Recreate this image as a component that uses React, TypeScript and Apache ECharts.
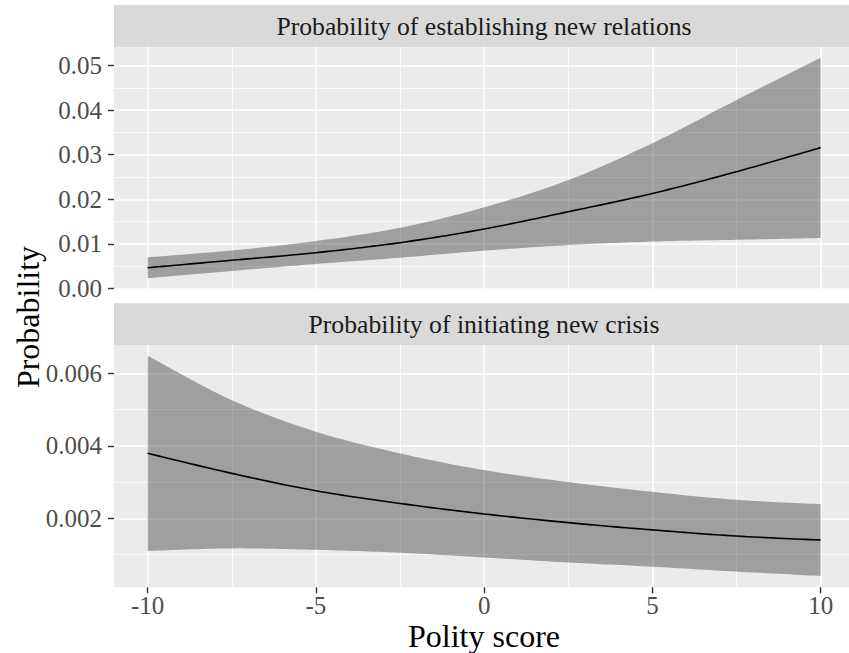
import React, { useEffect, useRef } from "react";
import * as echarts from "echarts";

// ---- data ----
const polity = [-10, -7.5, -5, -2.5, 0, 2.5, 5, 7.5, 10];

const relationsFit = [0.00463, 0.0063, 0.008, 0.01025, 0.01332, 0.0172, 0.0213, 0.0262, 0.0316];
const relationsLower = [0.00225, 0.0039, 0.00546, 0.00688, 0.00845, 0.0097, 0.0105, 0.0109, 0.0113];
const relationsUpper = [0.00696, 0.0085, 0.01062, 0.0136, 0.0182, 0.0243, 0.0326, 0.0423, 0.0518];

const crisisFit = [0.003793, 0.00324, 0.00276, 0.00241, 0.00212, 0.00188, 0.00168, 0.00151, 0.0014];
const crisisLower = [0.0011, 0.00117, 0.00113, 0.00105, 0.00092, 0.00078, 0.000665, 0.00053, 0.00041];
const crisisUpper = [0.006486, 0.00526, 0.00439, 0.00379, 0.00333, 0.003, 0.00273, 0.00251, 0.00239];

const panelTitles = ["Probability of establishing new relations", "Probability of initiating new crisis"];

const xTicks = [-10, -5, 0, 5, 10];
const xMinor = [-7.5, -2.5, 2.5, 7.5];
const relationsTicks = [0, 0.01, 0.02, 0.03, 0.04, 0.05];
const relationsMinor = [0.005, 0.015, 0.025, 0.035, 0.045];
const crisisTicks = [0.002, 0.004, 0.006];
const crisisMinor = [0.001, 0.003, 0.005];

const xTitle = "Polity score";
const yTitle = "Probability";

// ---- layout ----
const FONT = "Liberation Serif";
const X_MIN = -11;
const X_MAX = 10.843;
const panels = [
  { top: 47, height: 243, yMin: -0.00038, yMax: 0.0542, stripTop: 5, ticks: relationsTicks, minor: relationsMinor, dec: 2, fit: relationsFit, lower: relationsLower, upper: relationsUpper },
  { top: 345, height: 242.3, yMin: 0.0000966, yMax: 0.006781, stripTop: 303.3, ticks: crisisTicks, minor: crisisMinor, dec: 3, fit: crisisFit, lower: crisisLower, upper: crisisUpper },
];

// Catmull-Rom style curve through pixel points (rendering only)
function curve(pts: number[][]): number[][] {
  const out: number[][] = [];
  const n = pts.length;
  const steps = 16;
  for (let i = 0; i < n - 1; i++) {
    const p0 = pts[Math.max(0, i - 1)];
    const p1 = pts[i];
    const p2 = pts[i + 1];
    const p3 = pts[Math.min(n - 1, i + 2)];
    const c1 = [p1[0] + (p2[0] - p0[0]) / 6, p1[1] + (p2[1] - p0[1]) / 6];
    const c2 = [p2[0] - (p3[0] - p1[0]) / 6, p2[1] - (p3[1] - p1[1]) / 6];
    for (let s = 0; s < steps; s++) {
      const t = s / steps;
      const u = 1 - t;
      const a = u * u * u, b = 3 * u * u * t, c = 3 * u * t * t, d = t * t * t;
      out.push([
        a * p1[0] + b * c1[0] + c * c2[0] + d * p2[0],
        a * p1[1] + b * c1[1] + c * c2[1] + d * p2[1],
      ]);
    }
  }
  out.push(pts[n - 1]);
  return out;
}

export default function App() {
  const ref = useRef<HTMLDivElement>(null);
  useEffect(() => {
    if (!ref.current) return;
    const chart = echarts.init(ref.current, null, { renderer: "svg" });

    const grids: any[] = [];
    const xAxes: any[] = [];
    const yAxes: any[] = [];
    const series: any[] = [];
    const graphics: any[] = [];

    panels.forEach((p, i) => {
      grids.push({
        left: 114,
        top: p.top,
        width: 735,
        height: p.height,
        show: true,
        backgroundColor: "#EBEBEB",
        borderWidth: 0,
        containLabel: false,
        outerBoundsMode: "none",
      });
      const isBottom = i === panels.length - 1;
      xAxes.push({
        type: "value",
        gridIndex: i,
        position: "bottom",
        min: X_MIN,
        max: X_MAX,
        axisLine: { show: false, onZero: false },
        splitLine: { show: false },
        axisTick: {
          show: isBottom,
          customValues: xTicks,
          length: 6,
          lineStyle: { color: "#333333", width: 1.4 },
        },
        axisLabel: {
          show: isBottom,
          customValues: xTicks,
          formatter: (v: number) => String(v),
          fontFamily: FONT,
          fontSize: 25,
          lineHeight: 18,
          color: "#4D4D4D",
          margin: 9,
        },
      });
      yAxes.push({
        type: "value",
        gridIndex: i,
        position: "left",
        min: p.yMin,
        max: p.yMax,
        axisLine: { show: false, onZero: false },
        splitLine: { show: false },
        axisTick: {
          show: true,
          customValues: p.ticks,
          length: 6,
          lineStyle: { color: "#333333", width: 1.4 },
        },
        axisLabel: {
          customValues: p.ticks,
          formatter: (v: number) => v.toFixed(p.dec),
          fontFamily: FONT,
          fontSize: 25,
          color: "#4D4D4D",
          margin: 12,
        },
      });

      // grid lines
      const gl: any[] = [];
      xTicks.forEach((x) => gl.push({ coords: [[x, p.yMin], [x, p.yMax]], lineStyle: { width: 1.6 } }));
      xMinor.forEach((x) => gl.push({ coords: [[x, p.yMin], [x, p.yMax]], lineStyle: { width: 0.8 } }));
      p.ticks.forEach((y) => gl.push({ coords: [[X_MIN, y], [X_MAX, y]], lineStyle: { width: 1.6 } }));
      p.minor.forEach((y) => gl.push({ coords: [[X_MIN, y], [X_MAX, y]], lineStyle: { width: 0.8 } }));
      series.push({
        type: "lines",
        coordinateSystem: "cartesian2d",
        xAxisIndex: i,
        yAxisIndex: i,
        silent: true,
        z: 1,
        lineStyle: { color: "#FFFFFF", opacity: 1 },
        data: gl,
      });

      // confidence band
      series.push({
        type: "custom",
        coordinateSystem: "cartesian2d",
        xAxisIndex: i,
        yAxisIndex: i,
        silent: true,
        z: 2,
        data: [[polity[0], p.lower[0]]],
        renderItem: (_params: any, api: any) => {
          const up = polity.map((x, k) => api.coord([x, p.upper[k]]));
          const lo = polity.map((x, k) => api.coord([x, p.lower[k]]));
          const pts = curve(up).concat(curve(lo).reverse());
          return {
            type: "polygon",
            shape: { points: pts },
            style: { fill: "rgba(0,0,0,0.32)" },
          };
        },
      });

      // fitted line
      series.push({
        type: "custom",
        coordinateSystem: "cartesian2d",
        xAxisIndex: i,
        yAxisIndex: i,
        silent: true,
        z: 3,
        data: [[polity[0], p.fit[0]]],
        renderItem: (_params: any, api: any) => {
          const pts = polity.map((x, k) => api.coord([x, p.fit[k]]));
          return {
            type: "polyline",
            shape: { points: curve(pts) },
            style: { stroke: "#000000", lineWidth: 1.6, fill: null },
          };
        },
      });

      // facet strip
      graphics.push({
        type: "rect",
        shape: { x: 114, y: p.stripTop, width: 735, height: p.top - p.stripTop },
        style: { fill: "#D9D9D9" },
        z: 0,
      });
      graphics.push({
        type: "text",
        x: 484,
        y: (p.stripTop + p.top) / 2,
        style: {
          text: panelTitles[i],
          font: `25.7px "${FONT}"`,
          fill: "#1A1A1A",
          align: "center",
          verticalAlign: "middle",
          textAlign: "center",
          textVerticalAlign: "middle",
        },
        z: 1,
      });
    });

    graphics.push({
      type: "text",
      x: 484,
      y: 635.5,
      style: {
        text: xTitle,
        font: `32px "${FONT}"`,
        lineHeight: 24,
        fill: "#000000",
        align: "center",
        verticalAlign: "middle",
        textAlign: "center",
        textVerticalAlign: "middle",
      },
    });
    graphics.push({
      type: "text",
      x: 28,
      y: 317,
      rotation: Math.PI / 2,
      style: {
        text: yTitle,
        font: `32px "${FONT}"`,
        fill: "#000000",
        align: "center",
        verticalAlign: "middle",
        textAlign: "center",
        textVerticalAlign: "middle",
      },
    });

    chart.setOption({
      animation: false,
      backgroundColor: "#FFFFFF",
      textStyle: { fontFamily: FONT },
      grid: grids,
      xAxis: xAxes,
      yAxis: yAxes,
      series,
      graphic: graphics,
    });
    return () => chart.dispose();
  }, []);

  return (
    <div
      ref={ref}
      style={{ position: "absolute", left: 0, top: 0, width: 849, height: 653 }}
    />
  );
}
